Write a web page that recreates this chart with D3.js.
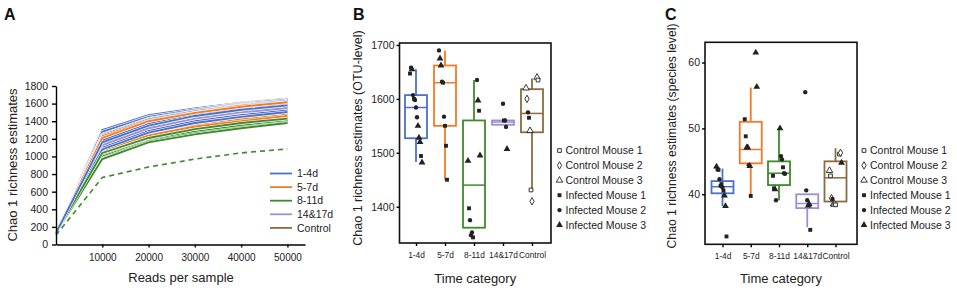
<!DOCTYPE html>
<html>
<head>
<meta charset="utf-8">
<script src="https://cdn.jsdelivr.net/npm/d3@7"></script>
<style>
  body { margin: 0; background: #fff; }
  svg { font-family: "Liberation Sans", Arial, sans-serif; }
  .axis path, .axis line { stroke: #000; stroke-width: 1.4; }
  .axis text { fill: #222; }
</style>
</head>
<body>
<svg id="chart" width="957" height="292"></svg>
<script>
// ------------------- data --------------------------------------------
var groups = ["1-4d", "5-7d", "8-11d", "14&17d", "Control"];
var readDepths = [0, 10000, 20000, 30000, 40000, 50000];
var readTicks = [10000, 20000, 30000, 40000, 50000];
var chaoTicks = [0, 200, 400, 600, 800, 1000, 1200, 1400, 1600, 1800];

// rarefaction curves (panel A), one array per sample, values at readDepths
var curves14 = [
  [130, 1300, 1470, 1545, 1610, 1655],
  [130, 1280, 1450, 1530, 1595, 1645],
  [130, 1240, 1420, 1510, 1580, 1630],
  [130, 1200, 1390, 1490, 1560, 1610],
  [130, 1180, 1370, 1470, 1540, 1590],
  [130, 1150, 1340, 1450, 1515, 1570],
  [130, 1120, 1310, 1420, 1490, 1545],
  [130, 1100, 1290, 1400, 1470, 1525],
  [130, 1080, 1270, 1380, 1450, 1505],
  [130, 1160, 1350, 1460, 1530, 1580]
];
var curves57 = [
  [130, 1270, 1440, 1525, 1600, 1640],
  [130, 1250, 1430, 1520, 1590, 1630],
  [130, 1230, 1410, 1500, 1575, 1620],
  [130, 1190, 1380, 1480, 1550, 1600],
  [130, 1100, 1270, 1370, 1440, 1500],
  [130, 1090, 1250, 1350, 1420, 1475],
  [130, 1070, 1240, 1340, 1400, 1460],
  [130, 1210, 1400, 1495, 1565, 1615]
];
var curves811 = [
  [130, 1220, 1400, 1490, 1560, 1600],
  [130, 1180, 1370, 1470, 1540, 1590],
  [130, 1060, 1230, 1340, 1400, 1450],
  [130, 1050, 1220, 1320, 1390, 1440],
  [130, 1030, 1200, 1300, 1370, 1420],
  [130, 1010, 1190, 1290, 1360, 1410],
  [130, 1000, 1180, 1280, 1350, 1400],
  [130, 980, 1170, 1260, 1330, 1385],
  [130, 970, 1160, 1250, 1320, 1380],
  [130, 1040, 1210, 1310, 1380, 1430]
];
var curves1417 = [
  [130, 1260, 1440, 1530, 1605, 1650],
  [130, 1230, 1420, 1510, 1585, 1635],
  [130, 1200, 1390, 1490, 1560, 1610],
  [130, 1170, 1360, 1460, 1535, 1585],
  [130, 1140, 1330, 1440, 1510, 1560],
  [130, 1120, 1300, 1410, 1480, 1535],
  [130, 1110, 1290, 1400, 1470, 1520],
  [130, 1130, 1320, 1430, 1500, 1550]
];
var curvesControl = [
  [130, 1150, 1340, 1440, 1510, 1560],
  [130, 1090, 1260, 1360, 1430, 1490]
];
var outlierCurve = [105, 760, 880, 970, 1040, 1085];   // dashed 8-11d sample

// panel B: OTU-level Chao1, [group, mouse, value]
var otuPoints = [
  ["1-4d","I1",1647],["1-4d","I2",1658],["1-4d","I3",1655],["1-4d","I2",1607],["1-4d","I1",1600],
  ["1-4d","I2",1598],["1-4d","I2",1584],["1-4d","I2",1566],["1-4d","I3",1550],["1-4d","I3",1528],
  ["1-4d","I3",1520],["1-4d","I1",1494],["1-4d","I3",1482],
  ["5-7d","I2",1690],["5-7d","I3",1675],["5-7d","I3",1662],["5-7d","I2",1632],["5-7d","I1",1630],
  ["5-7d","I2",1567],["5-7d","I1",1550],["5-7d","I1",1513],["5-7d","I1",1450],
  ["8-11d","I2",1635],["8-11d","I3",1597],["8-11d","I1",1578],["8-11d","I3",1495],["8-11d","I3",1485],
  ["8-11d","I1",1397],["8-11d","I2",1375],["8-11d","I2",1347],["8-11d","I2",1352],["8-11d","I1",1343],
  ["14&17d","I2",1591],["14&17d","I1",1560],["14&17d","I2",1560],["14&17d","I2",1548],["14&17d","I3",1507],
  ["Control","C3",1640],["Control","C1",1635],["Control","C3",1620],["Control","C2",1600],["Control","I2",1575],
  ["Control","I1",1565],["Control","C3",1541],["Control","C1",1431],["Control","C2",1410]
];
var otuQ1  = [1527, 1550, 1361, 1552, 1538];
var otuMed = [1584, 1630, 1440, 1557, 1573];
var otuQ3  = [1607, 1662, 1560, 1560, 1618];
var otuLo  = [1483, 1450, 1361, 1552, 1431];
var otuHi  = [1655, 1690, 1635, 1560, 1638];

// panel C: species-level Chao1
var spPoints = [
  ["1-4d","I3",44.2],["1-4d","I1",43.8],["1-4d","I1",43.7],["1-4d","I2",42.3],["1-4d","I2",41.3],
  ["1-4d","I1",41.55],["1-4d","I2",41.05],["1-4d","I1",40.55],["1-4d","I3",39.8],["1-4d","I3",38.2],
  ["1-4d","I1",33.6],
  ["5-7d","I3",61.5],["5-7d","I3",56.3],["5-7d","I1",51.4],["5-7d","I1",48.8],["5-7d","I3",47.1],
  ["5-7d","I3",47.1],["5-7d","I2",44.4],["5-7d","I3",44.3],["5-7d","I1",39.75],
  ["8-11d","I3",50.0],["8-11d","I2",45.8],["8-11d","I2",45.3],["8-11d","I1",44.1],["8-11d","I2",43.2],
  ["8-11d","I2",43.1],["8-11d","I1",42.8],["8-11d","I1",40.9],["8-11d","I3",40.75],["8-11d","I2",39.1],
  ["14&17d","I2",55.5],["14&17d","I2",40.6],["14&17d","I2",39.1],["14&17d","I3",38.3],["14&17d","I3",38.5],
  ["14&17d","I1",34.6],
  ["Control","C1",46.1],["Control","C2",46.3],["Control","I3",44.8],["Control","C3",43.6],["Control","C1",42.8],
  ["Control","C2",39.4],["Control","I2",39.3],["Control","C3",38.5],["Control","C3",38.5],["Control","C1",38.4]
];
var spQ1  = [40.15, 44.7, 41.4, 37.9, 38.9];
var spMed = [41.15, 46.8, 43.2, 38.6, 42.5];
var spQ3  = [42.0, 51.0, 45.0, 40.0, 45.0];
var spLo  = [38.2, 39.6, 39.1, 35.0, 38.9];
var spHi  = [43.9, 56.2, 50.0, 40.0, 47.0];

var mice = ["C1", "C2", "C3", "I1", "I2", "I3"];
var miceLabels = ["Control Mouse 1", "Control Mouse 2", "Control Mouse 3",
                  "Infected Mouse 1", "Infected Mouse 2", "Infected Mouse 3"];

// ------------------- styles ------------------------
var color = d3.scaleOrdinal()
    .domain(groups)
    .range(["#4a72c8", "#f47b25", "#3f8a2d", "#9b8fd6", "#8c6c3e"]);

var shape = d3.scaleOrdinal()
    .domain(mice)
    .range([d3.symbolSquare, d3.symbolDiamond, d3.symbolTriangle,
            d3.symbolSquare, d3.symbolCircle, d3.symbolTriangle]);
var shapeSize = { C1: 14, C2: 16, C3: 18, I1: 15, I2: 15, I3: 20 };

var svg = d3.select("#chart");

function panelLetter(x, t) {
  svg.append("text").attr("x", x).attr("y", 20)
    .attr("font-size", 16).attr("font-weight", "bold").attr("fill", "#111")
    .text(t);
}

// ------------------- panel A ------------------------
panelLetter(4, "A");
var gA = svg.append("g");
var xA = d3.scaleLinear().domain([0, 53800]).range([56, 305]);
var yA = d3.scaleLinear().domain([0, 1800]).range([244.5, 86]);

var lineA = d3.line()
  .x(function(d, i) { return xA(readDepths[i]); })
  .y(function(d) { return yA(d); });

// interleave the groups so no colour sits entirely on top
var curveSets = [
  [curves811, "8-11d"], [curvesControl, "Control"], [curves14, "1-4d"],
  [curves57, "5-7d"], [curves1417, "14&17d"]
];
for (var k = 0; k < 10; k++) {
  curveSets.forEach(function(set) {
    var c = set[0][k];
    if (!c) return;
    gA.append("path").attr("d", lineA(c))
      .attr("fill", "none").attr("stroke", "#fff").attr("stroke-width", 3);
    gA.append("path").attr("d", lineA(c))
      .attr("fill", "none").attr("stroke", color(set[1])).attr("stroke-width", 1.9);
  });
}
gA.append("path").attr("d", lineA(outlierCurve))
  .attr("fill", "none").attr("stroke", color("8-11d"))
  .attr("stroke-width", 1.6).attr("stroke-dasharray", "5,4");

gA.append("g").attr("class", "axis")
  .attr("transform", "translate(0," + yA(0) + ")")
  .call(d3.axisBottom(xA).tickValues(readTicks).tickFormat(d3.format("d"))
    .tickSizeInner(3).tickSizeOuter(0).tickPadding(6))
  .selectAll("text").attr("font-size", 10);
gA.append("g").attr("class", "axis")
  .attr("transform", "translate(" + xA(0) + ",0)")
  .call(d3.axisLeft(yA).tickValues(chaoTicks).tickFormat(d3.format("d"))
    .tickSizeInner(4).tickSizeOuter(0).tickPadding(4))
  .selectAll("text").attr("font-size", 10.5);
gA.selectAll(".axis .domain").attr("stroke-width", 1.6);

gA.append("text").attr("x", 181).attr("y", 282).attr("text-anchor", "middle")
  .attr("font-size", 13).attr("fill", "#222").text("Reads per sample");
gA.append("text").attr("transform", "translate(17,165) rotate(-90)")
  .attr("text-anchor", "middle").attr("font-size", 13).attr("fill", "#222")
  .text("Chao 1 richness estimates");

var legA = gA.selectAll(".legA").data(groups).enter().append("g")
  .attr("transform", function(d, i) { return "translate(270," + (173.5 + i * 13.6) + ")"; });
legA.append("line").attr("x1", 0).attr("x2", 22)
  .attr("stroke", function(d) { return color(d); }).attr("stroke-width", 1.8);
legA.append("text").attr("x", 27).attr("dy", "0.35em")
  .attr("font-size", 10.5).attr("fill", "#222").text(function(d) { return d; });

// ------------------- box panels B and C ------------------------
function jitter(i) {
  return (((i * 53) % 13) / 12 - 0.5) * 12;
}

function boxPanel(opt) {
  var g = svg.append("g");
  var x = d3.scalePoint().domain(groups).range([opt.cx0, opt.cx1]);
  var y = d3.scaleLinear().domain(opt.yDomain).range([opt.bottom, opt.top]);
  var bw = 22;

  // boxes
  groups.forEach(function(grp, i) {
    var cx = x(grp), c = color(grp);
    g.append("line").attr("x1", cx).attr("x2", cx)
      .attr("y1", y(opt.hi[i])).attr("y2", y(opt.q3[i]))
      .attr("stroke", c).attr("stroke-width", 1.8);
    g.append("line").attr("x1", cx).attr("x2", cx)
      .attr("y1", y(opt.q1[i])).attr("y2", y(opt.lo[i]))
      .attr("stroke", c).attr("stroke-width", 1.8);
    g.append("rect").attr("x", cx - bw / 2).attr("width", bw)
      .attr("y", y(opt.q3[i])).attr("height", Math.max(y(opt.q1[i]) - y(opt.q3[i]), 1))
      .attr("fill", "none").attr("stroke", c).attr("stroke-width", 1.8);
    g.append("line").attr("x1", cx - bw / 2).attr("x2", cx + bw / 2)
      .attr("y1", y(opt.med[i])).attr("y2", y(opt.med[i]))
      .attr("stroke", c).attr("stroke-width", 1.5);
  });

  // points
  g.selectAll(".pt").data(opt.points).enter().append("path")
    .attr("transform", function(d, i) {
      return "translate(" + (x(d[0]) + jitter(i)) + "," + y(d[2]) + ")";
    })
    .attr("d", function(d) { return d3.symbol().type(shape(d[1])).size(shapeSize[d[1]])(); })
    .attr("fill", function(d) { return d[1][0] === "C" ? "#fff" : "#222"; })
    .attr("stroke", "#222").attr("stroke-width", function(d) { return d[1][0] === "C" ? 0.9 : 0; });

  // frame + axes
  g.append("rect").attr("x", opt.left).attr("y", opt.top)
    .attr("width", opt.right - opt.left).attr("height", opt.bottom - opt.top)
    .attr("fill", "none").attr("stroke", "#111").attr("stroke-width", 1.6);
  g.append("g").attr("class", "axis")
    .attr("transform", "translate(" + opt.left + ",0)")
    .call(d3.axisLeft(y).tickValues(opt.ticks).tickFormat(d3.format("d"))
      .tickSizeInner(3).tickSizeOuter(0).tickPadding(2))
    .call(function(a) { a.select(".domain").remove(); })
    .selectAll("text").attr("font-size", 10.5);
  g.append("g").attr("class", "axis")
    .attr("transform", "translate(0," + opt.bottom + ")")
    .call(d3.axisBottom(x).tickSizeInner(3).tickSizeOuter(0).tickPadding(6))
    .call(function(a) { a.select(".domain").remove(); })
    .selectAll("text").attr("font-size", 8.4);

  g.append("text").attr("x", (opt.left + opt.right) / 2).attr("y", 283)
    .attr("text-anchor", "middle").attr("font-size", 13).attr("fill", "#222")
    .text("Time category");
  g.append("text")
    .attr("transform", "translate(" + opt.labelX + "," + opt.labelY + ") rotate(-90)")
    .attr("text-anchor", "middle").attr("font-size", opt.labelSize).attr("fill", "#222")
    .text(opt.label);

  // legend
  var leg = g.selectAll(".leg").data(mice).enter().append("g")
    .attr("transform", function(d, i) { return "translate(" + opt.legX + "," + (150.5 + i * 14.9) + ")"; });
  leg.append("path")
    .attr("d", function(d) { return d3.symbol().type(shape(d)).size(shapeSize[d])(); })
    .attr("fill", function(d) { return d[0] === "C" ? "#fff" : "#222"; })
    .attr("stroke", "#222").attr("stroke-width", function(d) { return d[0] === "C" ? 0.9 : 0; });
  leg.append("text").attr("x", 6).attr("dy", "0.35em")
    .attr("font-size", 10.5).attr("fill", "#222")
    .text(function(d, i) { return miceLabels[i]; });
}

panelLetter(353, "B");
boxPanel({
  left: 399.5, right: 551, top: 43, bottom: 243,
  cx0: 416, cx1: 532,
  yDomain: [1332.6, 1703.7], ticks: [1400, 1500, 1600, 1700],
  points: otuPoints, q1: otuQ1, med: otuMed, q3: otuQ3, lo: otuLo, hi: otuHi,
  label: "Chao 1 richness estimates (OTU-level)", labelX: 362, labelY: 138, labelSize: 12.5,
  legX: 559.5
});

panelLetter(665, "C");
boxPanel({
  left: 705, right: 857, top: 42.3, bottom: 244.3,
  cx0: 722.5, cx1: 835.5,
  yDomain: [32.41, 63.07], ticks: [40, 50, 60],
  points: spPoints, q1: spQ1, med: spMed, q3: spQ3, lo: spLo, hi: spHi,
  label: "Chao 1 richness estimates (species level)", labelX: 676, labelY: 136, labelSize: 12.2,
  legX: 864
});
</script>
</body>
</html>
